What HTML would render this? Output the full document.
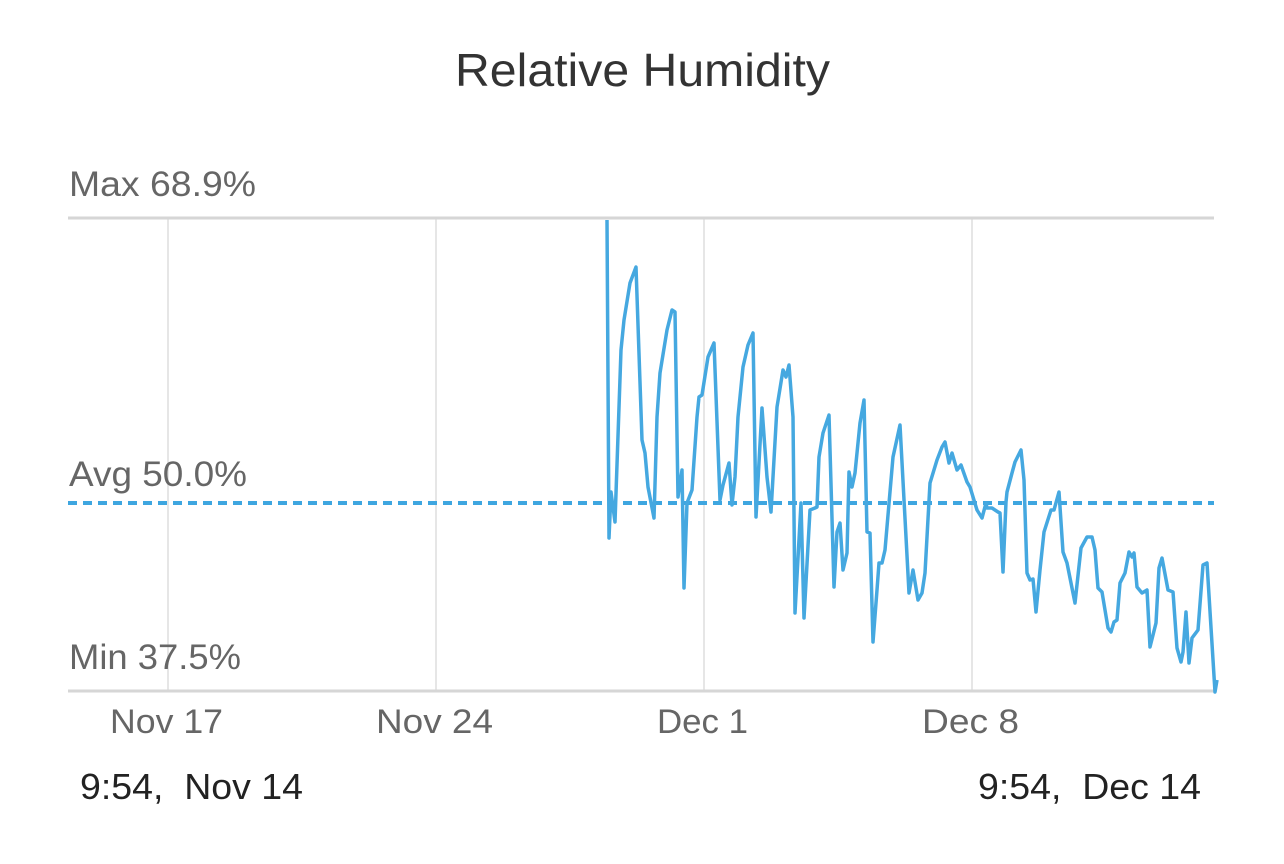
<!DOCTYPE html>
<html><head><meta charset="utf-8"><style>
html,body{margin:0;padding:0;background:#fff;}
body{width:1284px;height:859px;overflow:hidden;}
text{font-family:"Liberation Sans",sans-serif;}
</style></head><body>
<svg width="1284" height="859" viewBox="0 0 1284 859" xmlns="http://www.w3.org/2000/svg">
<text x="455" y="86" font-size="46" fill="#333" textLength="375" lengthAdjust="spacingAndGlyphs">Relative Humidity</text>
<g stroke="#e6e6e6" stroke-width="2">
<line x1="168" y1="218" x2="168" y2="691"/>
<line x1="436" y1="218" x2="436" y2="691"/>
<line x1="704" y1="218" x2="704" y2="691"/>
<line x1="972" y1="218" x2="972" y2="691"/>
</g>
<line x1="68" y1="218" x2="1214" y2="218" stroke="#d6d6d6" stroke-width="3"/>
<line x1="68" y1="691" x2="1214" y2="691" stroke="#d6d6d6" stroke-width="3"/>
<text x="69" y="196" font-size="35" fill="#666" textLength="187" lengthAdjust="spacingAndGlyphs">Max 68.9%</text>
<text x="69" y="486" font-size="35" fill="#666" textLength="178" lengthAdjust="spacingAndGlyphs">Avg 50.0%</text>
<text x="69" y="669" font-size="35" fill="#666" textLength="172" lengthAdjust="spacingAndGlyphs">Min 37.5%</text>
<line x1="68" y1="503" x2="1214" y2="503" stroke="#3ea6e0" stroke-width="4" stroke-dasharray="9,6"/>
<polyline fill="none" stroke="#45a8e0" stroke-width="3.5" stroke-linejoin="round" points="607,220 609,538 611,492 615,522 621,350 624,320 630,283 636,267 642,440 645,453 648,487 654,518 657,417 660,373 667,330 672,310 675,312 678,497 682,470 684,588 687,503 692,490 697,417 699,397 702,395 708,357 714,343 720,500 723,485 729,463 732,505 735,477 738,417 743,367 748,345 753,333 756,517 762,408 767,477 771,512 777,407 783,370 786,377 789,365 793,417 795,613 801,503 804,618 810,510 815,508 817,507 819,457 823,433 829,415 834,587 837,532 840,523 843,570 847,553 849,472 852,487 855,473 860,423 864,400 867,532 870,533 873,642 877,590 879,563 882,563 885,550 893,457 900,425 909,593 913,570 918,600 922,593 925,573 930,483 937,460 942,447 945,442 949,463 952,453 957,470 961,465 967,482 970,487 977,510 982,518 986,503 987,508 992,508 998,512 1000,513 1003,572 1006,502 1007,492 1012,473 1015,462 1021,450 1024,480 1027,573 1030,580 1033,579 1036,612 1040,570 1044,532 1051,510 1054,510 1059,492 1063,552 1067,563 1075,603 1081,548 1087,537 1092,537 1095,550 1098,588 1102,592 1108,628 1111,632 1114,622 1117,620 1120,583 1125,573 1129,552 1132,557 1134,553 1137,587 1142,593 1147,590 1150,647 1156,623 1159,568 1162,558 1168,590 1173,592 1177,648 1181,662 1183,652 1186,612 1189,663 1192,638 1198,630 1203,565 1207,563 1215,692 1217,680"/>
<g font-size="34" fill="#666">
<text x="110" y="733" textLength="113" lengthAdjust="spacingAndGlyphs">Nov 17</text>
<text x="376" y="733" textLength="117" lengthAdjust="spacingAndGlyphs">Nov 24</text>
<text x="657" y="733" textLength="91" lengthAdjust="spacingAndGlyphs">Dec 1</text>
<text x="922" y="733" textLength="97" lengthAdjust="spacingAndGlyphs">Dec 8</text>
</g>
<text x="80" y="799" font-size="36" fill="#222" xml:space="preserve" textLength="223" lengthAdjust="spacingAndGlyphs">9:54,  Nov 14</text>
<text x="978" y="799" font-size="36" fill="#222" xml:space="preserve" textLength="223" lengthAdjust="spacingAndGlyphs">9:54,  Dec 14</text>
</svg>
</body></html>
